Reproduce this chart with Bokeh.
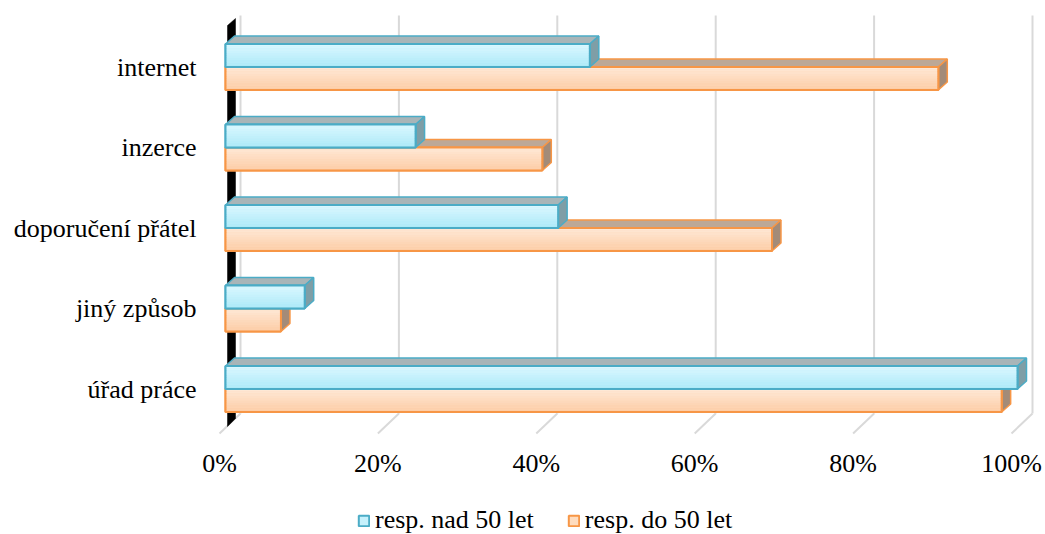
from bokeh.plotting import figure
from bokeh.models import Range1d, Legend, LegendItem
from bokeh.core.properties import value
from bokeh.embed import file_html
from bokeh.resources import INLINE

# ---------------- data ----------------
categories = ["úřad práce", "jiný způsob", "doporučení přátel", "inzerce", "internet"]  # bottom -> top
nad_50 = [100, 10, 42, 24, 46]   # resp. nad 50 let (%)
do_50 = [98, 7, 69, 40, 90]      # resp. do 50 let (%)
x_ticks = [0, 20, 40, 60, 80, 100]
x_tick_labels = ["0%", "20%", "40%", "60%", "80%", "100%"]
series_names = ["resp. nad 50 let", "resp. do 50 let"]

# ---------------- geometry / style ----------------
PXX = 1 / 7.92     # data units per pixel (x)
PXY = 1 / 80.5     # data units per pixel (y)
BAR_H = 23 * PXY
DX, DY = 9 * PXX, 8 * PXY          # bar depth
FONT = "'Liberation Serif', 'Times New Roman', serif"

p = figure(width=1045, height=534,
           x_range=Range1d(-225 * PXX, 820 * PXX),
           y_range=Range1d(-145.5 * PXY, 4 + 66.5 * PXY),
           x_axis_type=None, y_axis_type=None, toolbar_location=None, output_backend="svg",
           min_border_left=0, min_border_right=0, min_border_top=0, min_border_bottom=0)
p.outline_line_color = None
p.background_fill_color = "white"
p.border_fill_color = "white"

# ---------------- walls / grid ----------------
y_top = 4 + (66.5 - 15) * PXY
y_back = -(413 - 388.5) * PXY
y_front = -(433 - 388.5) * PXY
back_off = 15 * PXX
front_off = -6 * PXX
p.segment(x0=[t + back_off for t in x_ticks], y0=[y_top] * len(x_ticks),
          x1=[t + back_off for t in x_ticks], y1=[y_back] * len(x_ticks),
          line_color="#d9d9d9", line_width=2)
p.segment(x0=[t + back_off for t in x_ticks], y0=[y_back] * len(x_ticks),
          x1=[t + front_off for t in x_ticks], y1=[y_front] * len(x_ticks),
          line_color="#d9d9d9", line_width=2)

# black left wall
p.patch(x=[2 * PXX, 2 * PXX, 10 * PXX, 10 * PXX],
        y=[-(426 - 388.5) * PXY, 4 + (66.5 - 25) * PXY, 4 + (66.5 - 18) * PXY, -(418 - 388.5) * PXY],
        fill_color="black", line_color="black", line_width=0.5)

# ---------------- bars ----------------
def hexmix(c1, c2, t):
    a = [int(c1[i:i + 2], 16) for i in (1, 3, 5)]
    b = [int(c2[i:i + 2], 16) for i in (1, 3, 5)]
    return "#%02x%02x%02x" % tuple(round(a[k] + (b[k] - a[k]) * t) for k in range(3))

def draw_series(vals, sign, line_col, top_col, side_col, grad_top, grad_bot, mid_col):
    ys = list(range(len(vals)))
    bottoms = [y if sign > 0 else y - BAR_H for y in ys]
    tops = [b + BAR_H for b in bottoms]
    # top faces
    p.patches(xs=[[0, v, v + DX, DX] for v in vals],
              ys=[[t, t, t + DY, t + DY] for t in tops],
              fill_color=top_col, line_color=line_col, line_width=1.5)
    # side faces
    p.patches(xs=[[v, v, v + DX, v + DX] for v in vals],
              ys=[[b, t, t + DY, b + DY] for b, t in zip(bottoms, tops)],
              fill_color=side_col, line_color=line_col, line_width=1.5)
    # front faces (flat base, used by legend)
    base = p.quad(left=[0] * len(vals), right=vals, bottom=bottoms, top=tops,
                  fill_color=mid_col, line_color=line_col, line_width=2)
    # gradient bands
    n = 10
    for k in range(n):
        frac0 = k / n
        frac1 = (k + 1) / n
        p.quad(left=[0] * len(vals), right=vals,
               bottom=[t - frac1 * BAR_H for t in tops],
               top=[t - frac0 * BAR_H for t in tops],
               fill_color=hexmix(grad_top, grad_bot, (k + 0.5) / n), line_color=None)
    p.quad(left=[0] * len(vals), right=vals, bottom=bottoms, top=tops,
           fill_alpha=0, line_color=line_col, line_width=2)
    return base

r_do = draw_series(do_50, -1, "#f79646", "#bca897", "#a38b78", "#fee9d8", "#fdcca4", "#fedcbf")
r_nad = draw_series(nad_50, +1, "#4bacc6", "#a8b5b8", "#7f9ea6", "#ddf8ff", "#aae9f8", "#c6f1fc")

# ---------------- x tick labels ----------------
p.text(x=[t + front_off for t in x_ticks], y=[-(463 - 388.5) * PXY] * len(x_ticks),
       text=x_tick_labels, text_font=value(FONT), text_font_size="26px",
       text_align="center", text_baseline="middle", text_color="black")

# ---------------- category labels ----------------
p.text(x=[-29 * PXX] * len(categories), y=list(range(len(categories))),
       text=categories, text_font=value(FONT), text_font_size="26px",
       text_align="right", text_baseline="middle", text_color="black")

# ---------------- legend ----------------
legend = Legend(items=[LegendItem(label=series_names[0], renderers=[r_nad]),
                       LegendItem(label=series_names[1], renderers=[r_do])],
                orientation="horizontal", location=(357, -1),
                label_text_font=FONT, label_text_font_size="26px", label_text_color="black",
                glyph_width=13, glyph_height=13, label_standoff=5, spacing=33,
                padding=0, margin=0, border_line_color=None, background_fill_alpha=0)
p.add_layout(legend)

open("out.html", "w").write(file_html(p, INLINE))
